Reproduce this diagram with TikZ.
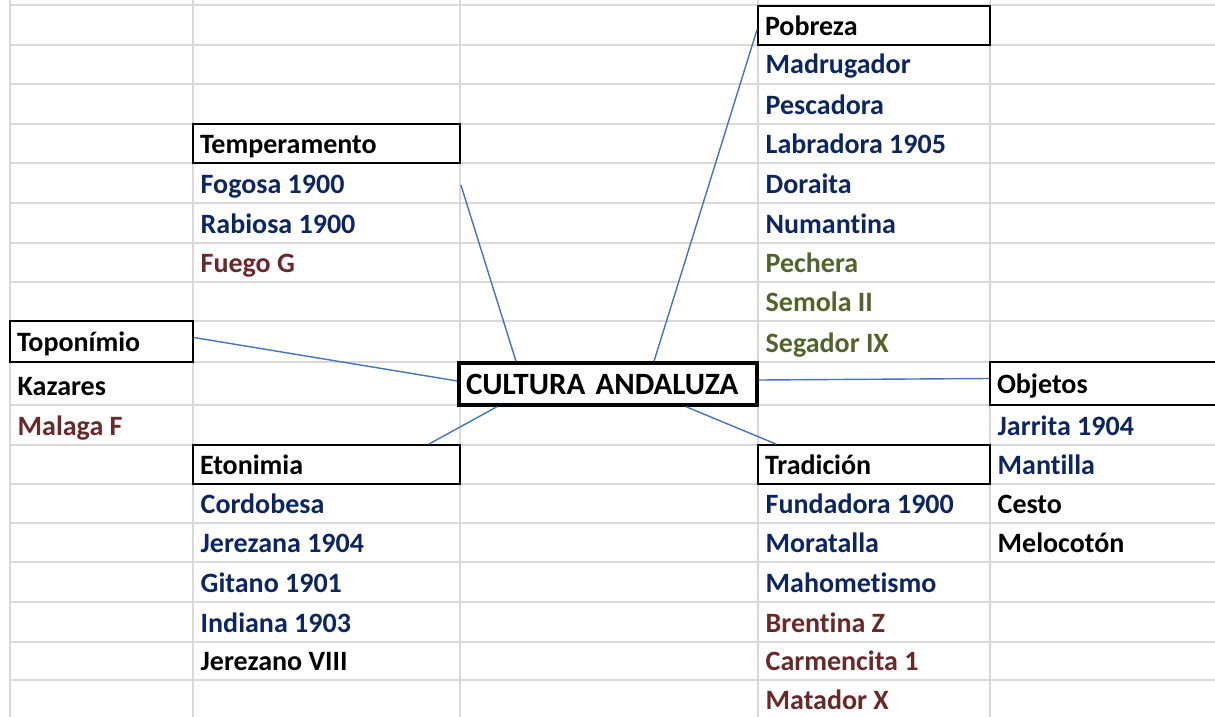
\documentclass[tikz,border=0pt]{standalone}
\usepackage{fontspec}
\setmainfont{Carlito}[Ligatures=NoCommon]
\usetikzlibrary{calc}
\definecolor{gridgray}{RGB}{217,217,217}
\definecolor{linkblue}{RGB}{68,114,196}
\definecolor{cellblue}{RGB}{12,38,100}
\definecolor{cellbrown}{RGB}{106,40,40}
\definecolor{cellgreen}{RGB}{82,100,42}

\begin{document}
\begin{tikzpicture}[x=1pt, y=-1pt,
    every node/.style={font=\bfseries\fontsize{28}{32}\selectfont, inner sep=0pt},
    cell/.style={anchor=base west},
    headbox/.style={draw, line width=1.8pt, align=left, text height=21pt, text depth=1pt},
    every path/.style={line width=1.4pt}]

    \useasboundingbox (0,0) rectangle (1215,717);

    % grid
    \foreach \y in {5,45,84,124,163,203,243,282,321,362,405,445,484,523,562,602,642,680}
        \draw[gridgray, line width=2pt] (10,\y) -- (1215,\y);
    \foreach \x in {10,193,460,758,990}
        \draw[gridgray, line width=2pt] (\x,0) -- (\x,717);

    \node[headbox, minimum width=232pt, minimum height=39pt, text width=218pt] (pob) at (874,25.5) {Pobreza};
    \node[cell, cellblue] (madr) at (765,74) {Madrugador};
    \node[cell, cellblue] (pesc) at (765,114) {Pescadora};
    \node[cell, cellblue] (labr) at (765,153) {Labradora 1905};
    \node[cell, cellblue] (dora) at (765,193) {Doraita};
    \node[cell, cellblue] (numa) at (765,233) {Numantina};
    \node[cell, cellgreen] (pech) at (765,272) {Pechera};
    \node[cell, cellgreen] (semo) at (765,311) {Semola II};
    \node[cell, cellgreen] (sega) at (765,352) {Segador IX};

    \node[headbox, minimum width=267pt, minimum height=39pt, text width=253pt] (tem) at (326.5,143.5) {Temperamento};
    \node[cell, cellblue] (fogo) at (200,193) {Fogosa 1900};
    \node[cell, cellblue] (rabi) at (200,233) {Rabiosa 1900};
    \node[cell, cellbrown] (fueg) at (200,272) {Fuego G};

    \node[headbox, minimum width=183pt, minimum height=41pt, text width=169pt] (top) at (101.5,341.5) {Toponímio};
    \node[cell] (kaza) at (17,395) {Kazares};
    \node[cell, cellbrown] (mala) at (17,435) {Malaga F};

    \node[headbox, line width=3.4pt, font=\bfseries\fontsize{31}{36}\selectfont, minimum width=298pt, minimum height=42pt, text width=284pt] (cul) at (608,384) {CULTURA ANDALUZA};

    \node[headbox, minimum width=240pt, minimum height=43pt, text width=226pt] (obj) at (1110,383.5) {Objetos};
    \node[cell, cellblue] (jarr) at (997,435) {Jarrita 1904};
    \node[cell, cellblue] (mant) at (997,474) {Mantilla};
    \node[cell] (cest) at (997,513) {Cesto};
    \node[cell] (melo) at (997,552) {Melocotón};

    \node[headbox, minimum width=267pt, minimum height=39pt, text width=253pt] (eto) at (326.5,464.5) {Etonimia};
    \node[cell, cellblue] (cord) at (200,513) {Cordobesa};
    \node[cell, cellblue] (jere) at (200,552) {Jerezana 1904};
    \node[cell, cellblue] (gita) at (200,592) {Gitano 1901};
    \node[cell, cellblue] (indi) at (200,632) {Indiana 1903};
    \node[cell] (jrzo) at (200,670) {Jerezano VIII};

    \node[headbox, minimum width=232pt, minimum height=39pt, text width=218pt] (tra) at (874,464.5) {Tradición};
    \node[cell, cellblue] (fund) at (765,513) {Fundadora 1900};
    \node[cell, cellblue] (mora) at (765,552) {Moratalla};
    \node[cell, cellblue] (maho) at (765,592) {Mahometismo};
    \node[cell, cellbrown] (bren) at (765,632) {Brentina Z};
    \node[cell, cellbrown] (carm) at (765,670) {Carmencita 1};
    \node[cell, cellbrown] (mata) at (765,709) {Matador X};

    \draw[linkblue] ([yshift=-41.5pt]tem.east) to ([xshift=-92pt]cul.north);
    \draw[linkblue] ([yshift=-4pt]pob.west) to ([xshift=46pt]cul.north);
    \draw[linkblue] ([yshift=4pt]top.east) to ([yshift=3pt]cul.west);
    \draw[linkblue] ([yshift=4pt]cul.east) to ([yshift=5pt]obj.west);
    \draw[linkblue] ([xshift=-32pt]eto.north east) to ([xshift=-111pt]cul.south);
    \draw[linkblue] ([xshift=78pt]cul.south) to ([xshift=19pt]tra.north west);
\end{tikzpicture}
\end{document}
